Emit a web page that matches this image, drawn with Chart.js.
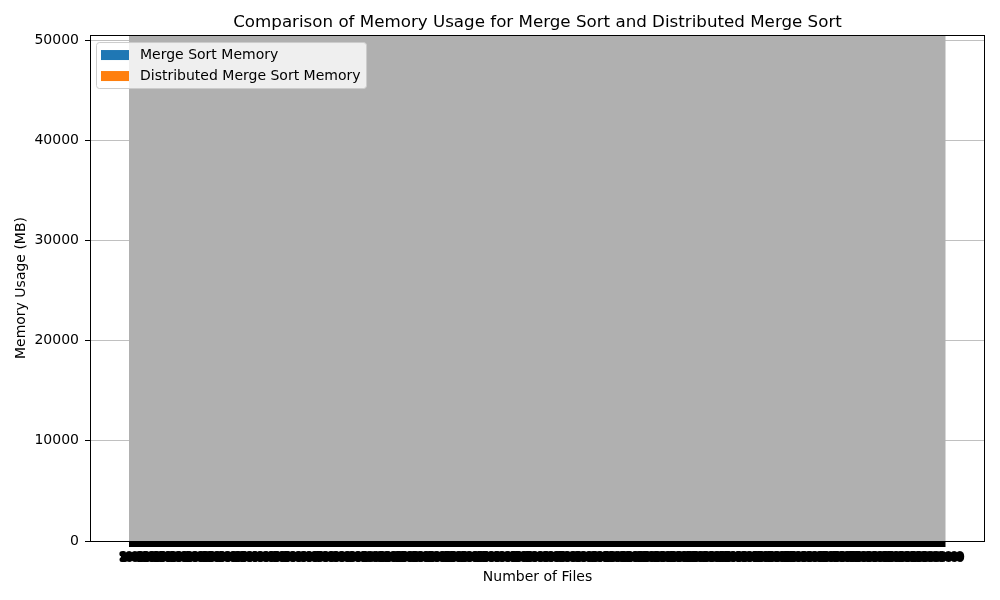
<!DOCTYPE html>
<html>
<head>
<meta charset="utf-8">
<script src="https://cdn.jsdelivr.net/npm/chart.js@4.4.1/dist/chart.umd.min.js"></script>
<style>
  html, body { margin: 0; padding: 0; background: #fff; }
  #wrap { width: 1000px; height: 600px; }
</style>
</head>
<body>
<div id="wrap"><canvas id="c" width="1000" height="600"></canvas></div>
<script>
// ---- data ----
const numberOfFiles = [
  100000, 120000, 150000, 180000, 200000, 250000, 300000, 350000, 400000, 450000,
  500000, 600000, 700000, 800000, 900000, 1000000, 1200000, 1500000, 1800000, 2000000,
  2500000, 3000000, 3500000, 4000000, 4500000, 5000000, 6000000, 7000000, 8000000, 9000000,
  10000000, 12000000, 15000000, 18000000, 20000000, 25000000, 30000000, 35000000, 40000000, 45000000,
  50000000, 55000000, 60000000, 65000000, 70000000, 75000000, 80000000, 85000000, 90000000, 100000000
];
const mergeSortMemory = [
  980, 1920, 2910, 3840, 4830, 5770, 6760, 7690, 8690, 9610,
  10620, 11540, 12530, 13480, 14460, 15410, 16390, 17330, 18320, 19260,
  20250, 21180, 22170, 23110, 24090, 25040, 26020, 26960, 27950, 28890,
  29870, 30820, 31800, 32740, 33730, 34670, 35660, 36600, 37580, 38530,
  39510, 40450, 41440, 42380, 43360, 44310, 45290, 46230, 47220, 48100
];
const distributedMergeSortMemory = [
  520, 760, 1010, 1250, 1490, 1740, 1980, 2230, 2470, 2710,
  2960, 3200, 3450, 3690, 3930, 4180, 4420, 4670, 4910, 5150,
  5400, 5640, 5890, 6130, 6370, 6620, 6860, 7110, 7350, 7590,
  7840, 8080, 8330, 8570, 8810, 9060, 9300, 9550, 9790, 10030,
  10280, 10520, 10770, 11010, 11250, 11500, 11740, 11990, 12230, 12470
];
const yTickValues = [0, 10000, 20000, 30000, 40000, 50000];

const FONT = "'DejaVu Sans', 'Liberation Sans', sans-serif";

// frame (axes spines) + in-axes legend, matplotlib style
const framePlugin = {
  id: 'frame',
  beforeDraw(chart) {
    chart.ctx.lineJoin = 'round';
    chart.ctx.lineCap = 'butt';
  },
  afterDraw(chart) {
    const {ctx, chartArea: a} = chart;
    ctx.save();
    ctx.lineJoin = 'miter';
    ctx.strokeStyle = '#000';
    ctx.lineWidth = 1;
    ctx.strokeRect(Math.round(a.left) + 0.5, Math.round(a.top) + 0.5,
                   Math.round(a.right - a.left) - 1, Math.round(a.bottom - a.top));
    // legend
    const ds = chart.data.datasets;
    ctx.font = '14px ' + FONT;
    let tw = 0;
    ds.forEach(d => { tw = Math.max(tw, ctx.measureText(d.label).width); });
    const bx = a.left + 6.5, by = a.top + 7.5;
    const bw = 43.5 + tw + 6, bh = 46;
    ctx.beginPath();
    ctx.roundRect(bx, by, bw, bh, 3);
    ctx.fillStyle = 'rgba(255,255,255,0.8)';
    ctx.fill();
    ctx.strokeStyle = '#cccccc';
    ctx.lineWidth = 1;
    ctx.stroke();
    ds.forEach((d, i) => {
      const cy = by + 12.5 + i * 21;
      ctx.fillStyle = d.backgroundColor;
      ctx.fillRect(a.left + 11, cy - 5, 28, 10);
      ctx.fillStyle = '#000';
      ctx.textBaseline = 'middle';
      ctx.textAlign = 'left';
      ctx.fillText(d.label, a.left + 50, cy);
    });
    ctx.restore();
  }
};

new Chart(document.getElementById('c'), {
  type: 'bar',
  data: {
    datasets: [
      {
        label: 'Merge Sort Memory',
        data: mergeSortMemory.map((v, i) => ({x: i, y: v})),
        backgroundColor: '#1f77b4'
      },
      {
        label: 'Distributed Merge Sort Memory',
        data: distributedMergeSortMemory.map((v, i) => ({x: i, y: v})),
        backgroundColor: '#ff7f0e'
      }
    ]
  },
  plugins: [framePlugin],
  options: {
    responsive: false,
    animation: false,
    layout: { padding: { left: 0, right: 15, top: 0, bottom: 0 } },
    plugins: {
      legend: { display: false },
      tooltip: { enabled: false },
      title: {
        display: true,
        fullSize: false,
        text: 'Comparison of Memory Usage for Merge Sort and Distributed Merge Sort',
        color: '#000',
        font: { family: FONT, size: 16.7, weight: 'normal', lineHeight: 1.2 },
        padding: { top: 13, bottom: 2 }
      }
    },
    scales: {
      x: {
        type: 'linear',
        offset: false,
        min: -2.93,
        max: 51.95,
        afterBuildTicks: (scale) => { scale.ticks = numberOfFiles.map((_, i) => ({ value: i })); },
        afterFit: (scale) => { scale.height = 59; },
        ticks: {
          autoSkip: false,
          maxRotation: 0,
          minRotation: 0,
          color: '#000',
          font: { family: FONT, size: 9 },
          padding: 5.5,
          textStrokeColor: '#000',
          textStrokeWidth: 4.2,
          callback: (value) => String(numberOfFiles[value])
        },
        grid: {
          offset: false,
          z: 1,
          color: '#b0b0b0',
          lineWidth: 17.5,
          tickColor: '#000',
          tickWidth: 17.5,
          tickLength: 6
        },
        border: { display: false },
        title: {
          display: true,
          text: 'Number of Files',
          color: '#000',
          font: { family: FONT, size: 14 },
          padding: { top: 0, bottom: 14.6 }
        }
      },
      y: {
        min: 0,
        max: 50500,
        afterBuildTicks: (scale) => { scale.ticks = yTickValues.map(v => ({ value: v })); },
        afterFit: (scale) => { scale.width = 90; },
        ticks: {
          color: '#000',
          font: { family: FONT, size: 14 },
          padding: 6,
          callback: (v) => String(v)
        },
        grid: {
          color: '#b0b0b0',
          lineWidth: 0.8,
          tickColor: '#000',
          tickWidth: 1,
          tickLength: 5
        },
        border: { display: false },
        title: {
          display: true,
          text: 'Memory Usage (MB)',
          color: '#000',
          font: { family: FONT, size: 14 },
          padding: { top: 12.6, bottom: 0 }
        }
      }
    }
  }
});
</script>
</body>
</html>
